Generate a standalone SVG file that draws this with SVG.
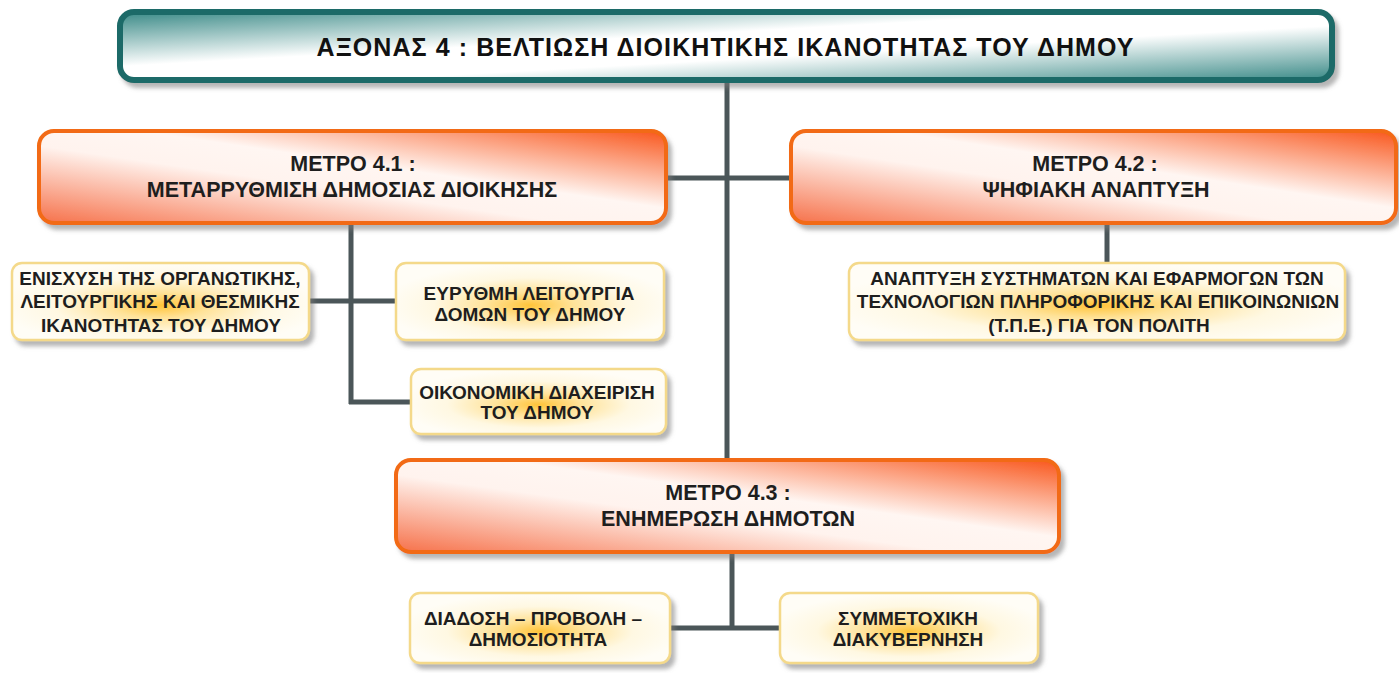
<svg xmlns="http://www.w3.org/2000/svg" width="1399" height="673" viewBox="0 0 1399 673">
<defs>
<linearGradient id="tealG" x1="0" y1="0" x2="1" y2="1">
<stop offset="0" stop-color="#3a8a87"/>
<stop offset="0.4" stop-color="#ffffff"/>
<stop offset="0.6" stop-color="#ffffff"/>
<stop offset="1" stop-color="#3a8a87"/>
</linearGradient>
<linearGradient id="orG" x1="0" y1="1" x2="1" y2="0">
<stop offset="0" stop-color="#f6714a"/>
<stop offset="0.42" stop-color="#fff3ee"/>
<stop offset="0.58" stop-color="#fff6f2"/>
<stop offset="1" stop-color="#f9561c"/>
</linearGradient>
<radialGradient id="ylG" cx="0.5" cy="0.55" r="0.55">
<stop offset="0" stop-color="#ffc43a"/>
<stop offset="0.3" stop-color="#ffe39a"/>
<stop offset="0.65" stop-color="#fff8e2"/>
<stop offset="1" stop-color="#fffdf6"/>
</radialGradient>
<filter id="sh" x="-10%" y="-20%" width="125%" height="150%">
<feDropShadow dx="4" dy="5" stdDeviation="2" flood-color="#7a7a7a" flood-opacity="0.55"/>
</filter>
</defs>
<style>
.con{stroke:#4b5659;stroke-width:5;fill:none}
.axis{fill:url(#tealG);stroke:#1d6b68;stroke-width:6}
.meas{fill:url(#orG);stroke:#f26a12;stroke-width:4}
.act{fill:url(#ylG);stroke:#f4d98a;stroke-width:2.5}
text{font-family:"Liberation Sans",Arial,sans-serif;font-weight:bold;fill:#1e1e1e;text-anchor:middle}
.t0{font-size:25px;fill:#111}
.t1{font-size:21.5px}
.t2{font-size:19px}
</style>
<g id="connectors">
<line class="con" x1="727" y1="81" x2="727" y2="460"/>
<line class="con" x1="666" y1="178" x2="791" y2="178"/>
<line class="con" x1="351" y1="224" x2="351" y2="404"/>
<line class="con" x1="309" y1="301" x2="396" y2="301"/>
<line class="con" x1="349" y1="402" x2="411" y2="402"/>
<line class="con" x1="1107" y1="224" x2="1107" y2="264"/>
<line class="con" x1="732" y1="552" x2="732" y2="628"/>
<line class="con" x1="669" y1="628" x2="781" y2="628"/>
</g>
<g id="axis4">
<rect class="axis" x="120" y="12" width="1212" height="68" rx="14" filter="url(#sh)"/>
<text class="t0" x="725" y="56" textLength="817" lengthAdjust="spacing">ΑΞΟΝΑΣ 4 : ΒΕΛΤΙΩΣΗ ΔΙΟΙΚΗΤΙΚΗΣ ΙΚΑΝΟΤΗΤΑΣ ΤΟΥ ΔΗΜΟΥ</text>
</g>
<g id="m41">
<rect class="meas" x="39" y="131" width="627" height="92" rx="15" filter="url(#sh)"/>
<text class="t1" x="353" y="171">ΜΕΤΡΟ 4.1 :</text>
<text class="t1" x="352" y="197">ΜΕΤΑΡΡΥΘΜΙΣΗ ΔΗΜΟΣΙΑΣ ΔΙΟΙΚΗΣΗΣ</text>
</g>
<g id="m42">
<rect class="meas" x="791" y="131" width="605" height="92" rx="15" filter="url(#sh)"/>
<text class="t1" x="1095" y="171">ΜΕΤΡΟ 4.2 :</text>
<text class="t1" x="1096" y="197">ΨΗΦΙΑΚΗ ΑΝΑΠΤΥΞΗ</text>
</g>
<g id="m43">
<rect class="meas" x="396" y="460" width="663" height="92" rx="15" filter="url(#sh)"/>
<text class="t1" x="728" y="500">ΜΕΤΡΟ 4.3 :</text>
<text class="t1" x="728" y="526">ΕΝΗΜΕΡΩΣΗ ΔΗΜΟΤΩΝ</text>
</g>
<g id="a411">
<rect class="act" x="12" y="263" width="297" height="77" rx="10" filter="url(#sh)"/>
<text class="t2" x="160" y="285">ΕΝΙΣΧΥΣΗ ΤΗΣ ΟΡΓΑΝΩΤΙΚΗΣ,</text>
<text class="t2" x="160" y="308">ΛΕΙΤΟΥΡΓΙΚΗΣ ΚΑΙ ΘΕΣΜΙΚΗΣ</text>
<text class="t2" x="161" y="332">ΙΚΑΝΟΤΗΤΑΣ ΤΟΥ ΔΗΜΟΥ</text>
</g>
<g id="a412">
<rect class="act" x="396" y="263" width="268" height="77" rx="10" filter="url(#sh)"/>
<text class="t2" x="529" y="300">ΕΥΡΥΘΜΗ ΛΕΙΤΟΥΡΓΙΑ</text>
<text class="t2" x="530" y="321">ΔΟΜΩΝ ΤΟΥ ΔΗΜΟΥ</text>
</g>
<g id="a413">
<rect class="act" x="411" y="369" width="255" height="65" rx="10" filter="url(#sh)"/>
<text class="t2" x="537" y="399">ΟΙΚΟΝΟΜΙΚΗ ΔΙΑΧΕΙΡΙΣΗ</text>
<text class="t2" x="537" y="419">ΤΟΥ ΔΗΜΟΥ</text>
</g>
<g id="a421">
<rect class="act" x="849" y="263" width="496" height="77" rx="10" filter="url(#sh)"/>
<text class="t2" x="1097" y="285">ΑΝΑΠΤΥΞΗ ΣΥΣΤΗΜΑΤΩΝ ΚΑΙ ΕΦΑΡΜΟΓΩΝ ΤΩΝ</text>
<text class="t2" x="1098" y="308">ΤΕΧΝΟΛΟΓΙΩΝ ΠΛΗΡΟΦΟΡΙΚΗΣ ΚΑΙ ΕΠΙΚΟΙΝΩΝΙΩΝ</text>
<text class="t2" x="1099" y="332">(Τ.Π.Ε.) ΓΙΑ ΤΟΝ ΠΟΛΙΤΗ</text>
</g>
<g id="a431">
<rect class="act" x="410" y="593" width="260" height="70" rx="10" filter="url(#sh)"/>
<text class="t2" x="533" y="625">ΔΙΑΔΟΣΗ – ΠΡΟΒΟΛΗ –</text>
<text class="t2" x="538" y="646">ΔΗΜΟΣΙΟΤΗΤΑ</text>
</g>
<g id="a432">
<rect class="act" x="780" y="593" width="258" height="70" rx="10" filter="url(#sh)"/>
<text class="t2" x="908" y="625">ΣΥΜΜΕΤΟΧΙΚΗ</text>
<text class="t2" x="908" y="646">ΔΙΑΚΥΒΕΡΝΗΣΗ</text>
</g>
</svg>
